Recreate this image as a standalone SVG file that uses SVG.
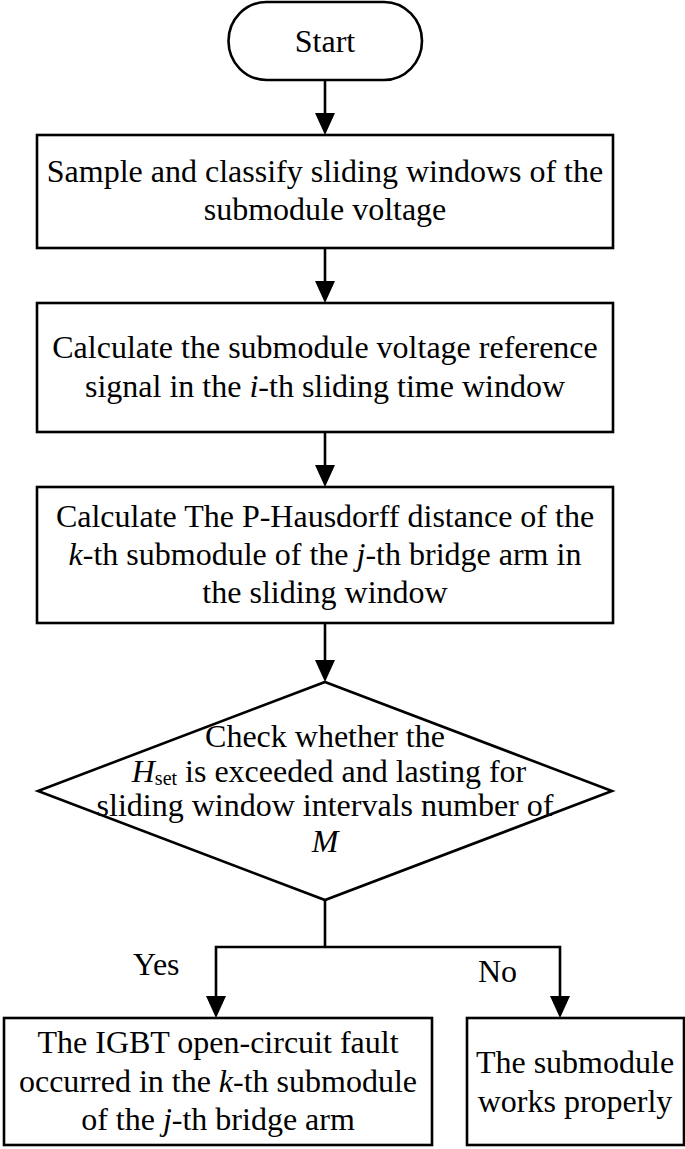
<svg xmlns="http://www.w3.org/2000/svg" width="685" height="1149" viewBox="0 0 685 1149">
<defs>
<marker id="ah" markerUnits="userSpaceOnUse" markerWidth="22" markerHeight="20" refX="12" refY="10" orient="auto" viewBox="0 0 22 20">
<path d="M0,0 L22,10 L0,20 Z" fill="#000"/>
</marker>
</defs>
<style>
.s{fill:#fff;stroke:#000;stroke-width:2.6}
.t{font-family:"Liberation Serif","Times New Roman",serif;font-size:32px;fill:#000;text-anchor:middle}
.l{font-family:"Liberation Serif","Times New Roman",serif;font-size:32px;fill:#000}
.c{fill:none;stroke:#000;stroke-width:2.6}
.i{font-style:italic}
</style>
<rect width="685" height="1149" fill="#fff"/>
<g id="connectors">
<line class="c" x1="325" y1="80" x2="325" y2="125" marker-end="url(#ah)"/>
<line class="c" x1="325" y1="248" x2="325" y2="293" marker-end="url(#ah)"/>
<line class="c" x1="325" y1="432" x2="325" y2="477" marker-end="url(#ah)"/>
<line class="c" x1="325" y1="623" x2="325" y2="672" marker-end="url(#ah)"/>
<line class="c" x1="325" y1="900" x2="325" y2="947"/>
<path class="c" d="M325,947 H216 V1008" marker-end="url(#ah)"/>
<path class="c" d="M325,947 H560 V1008" marker-end="url(#ah)"/>
<text class="l" x="133" y="975">Yes</text>
<text class="l" x="478" y="982">No</text>
</g>
<g id="start">
<rect class="s" x="228.5" y="2" width="193.5" height="78" rx="38" ry="39"/>
<text class="t" x="325" y="52">Start</text>
</g>
<g id="sample">
<rect class="s" x="37" y="135" width="576" height="113"/>
<text class="t" x="325" y="182">Sample and classify sliding windows of the</text>
<text class="t" x="325" y="220">submodule voltage</text>
</g>
<g id="reference">
<rect class="s" x="37" y="303" width="576" height="129"/>
<text class="t" x="325" y="358">Calculate the submodule voltage reference</text>
<text class="t" x="325" y="397">signal in the <tspan class="i">i</tspan>-th sliding time window</text>
</g>
<g id="hausdorff">
<rect class="s" x="37" y="487" width="576" height="136"/>
<text class="t" x="325" y="527">Calculate The P-Hausdorff distance of the</text>
<text class="t" x="325" y="565"><tspan class="i">k</tspan>-th submodule of the <tspan class="i">j</tspan>-th bridge arm in</text>
<text class="t" x="325" y="603">the sliding window</text>
</g>
<g id="check">
<polygon class="s" points="325,682 612,791 325,900 38,791"/>
<text class="t" x="325" y="747">Check whether the</text>
<text class="t" x="329" y="782"><tspan class="i">H</tspan><tspan font-size="20" dy="3">set</tspan><tspan dy="-3"> is exceeded and lasting for</tspan></text>
<text class="t" x="325" y="816">sliding window intervals number of</text>
<text class="t" x="325" y="852"><tspan class="i">M</tspan></text>
</g>
<g id="fault">
<rect class="s" x="4" y="1018" width="428" height="127"/>
<text class="t" x="218" y="1053">The IGBT open-circuit fault</text>
<text class="t" x="218" y="1092">occurred in the <tspan class="i">k</tspan>-th submodule</text>
<text class="t" x="218" y="1130">of the <tspan class="i">j</tspan>-th bridge arm</text>
</g>
<g id="normal">
<rect class="s" x="467" y="1018" width="217" height="127"/>
<text class="t" x="575" y="1073">The submodule</text>
<text class="t" x="575" y="1112">works properly</text>
</g>
</svg>
